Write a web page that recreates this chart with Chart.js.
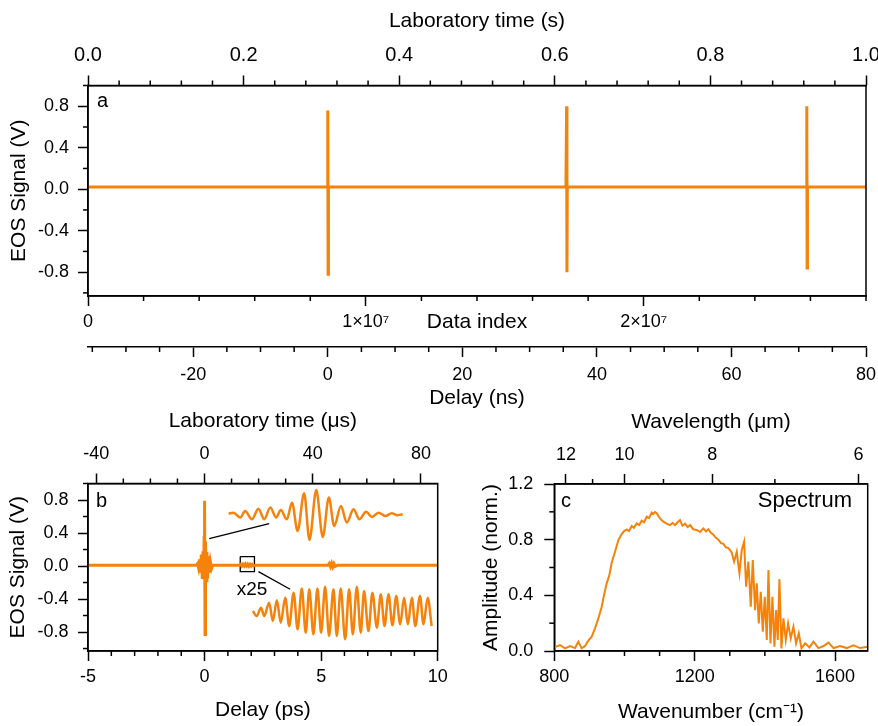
<!DOCTYPE html>
<html>
<head>
<meta charset="utf-8">
<script src="https://cdn.jsdelivr.net/npm/chart.js@4.4.1/dist/chart.umd.min.js"></script>
<style>
  html, body { margin: 0; padding: 0; background: #fff; }
  #fig { position: relative; width: 878px; height: 726px; overflow: hidden; background: #fff; }
  #fig canvas { position: absolute; }
</style>
</head>
<body>
<div id="fig">
  <canvas id="chartA" width="878" height="415" style="left:0;top:0"></canvas>
  <canvas id="chartB" width="450" height="321" style="left:0;top:405px"></canvas>
  <canvas id="chartC" width="428" height="321" style="left:450px;top:405px"></canvas>
</div>
<script>
const FONT = "'Liberation Sans', Arial, sans-serif";
const ORANGE = "#f5820a";

// panel a: full record, plotted against delay (ns)
const delayNs = [-35.64, -0.1, 0, 0.05, 0.1, 35.4, 35.5, 35.55, 35.6, 71.1, 71.2, 71.25, 71.3, 80];
const signalA = [0.02, 0.02, 0.76, -0.82, 0.02, 0.02, 0.80, -0.80, 0.02, 0.02, 0.80, -0.76, 0.02, 0.02];

const labTimeTicks = [0, 0.2, 0.4, 0.6, 0.8, 1.0];
const labTimeLabels = ["0.0", "0.2", "0.4", "0.6", "0.8", "1.0"];
const indexTicks = [0, 1e7, 2e7];
const indexLabels = ["0", "1×10⁷", "2×10⁷"];
const delayNsTicks = [-20, 0, 20, 40, 60, 80];
const delayNsLabels = ["-20", "0", "20", "40", "60", "80"];
const signalTicks = [-0.8, -0.4, 0, 0.4, 0.8];
const signalLabels = ["-0.8", "-0.4", "0.0", "0.4", "0.8"];

// panel b: single pulse (ps)
const delayPs = [-5, -0.35, -0.3, -0.26, -0.22, -0.18, -0.14, -0.10, -0.07, -0.04, -0.02, 0, 0.02, 0.04, 0.07,
  0.10, 0.13, 0.17, 0.21, 0.25, 0.3, 0.35, 1.5, 1.55, 1.6, 1.65, 1.7, 1.75, 1.8, 1.85, 1.9, 1.95, 2.0, 2.05, 2.1, 2.2,
  5.3, 5.35, 5.4, 5.45, 5.5, 5.55, 5.6, 5.7, 10];
const signalB = [0.01, 0.01, 0.03, -0.02, 0.08, -0.08, 0.14, -0.14, 0.18, -0.16, 0.35, 0.79, -0.83, 0.3, -0.18,
  0.17, -0.15, 0.12, -0.08, 0.05, -0.03, 0.01, 0.01, 0.02, 0.0, 0.022, 0.0, 0.024, 0.0, 0.022, -0.002, 0.02, 0.0, 0.018, 0.002, 0.01,
  0.01, 0.03, -0.008, 0.032, -0.01, 0.028, -0.004, 0.01, 0.01];

// zoomed insets, drawn in the same axes
const upperDelay = [1.03, 1.24, 1.53, 1.74, 2.03, 2.31, 2.56, 2.82, 3.07, 3.27, 3.53, 3.75, 3.99, 4.27, 4.50,
  4.79, 5.07, 5.33, 5.56, 5.85, 6.10, 6.39, 6.64, 6.93, 7.17, 7.46, 7.75, 8.03, 8.25, 8.50];
const upperSignal = [0.635, 0.647, 0.587, 0.667, 0.566, 0.695, 0.566, 0.708, 0.587, 0.679, 0.566, 0.768, 0.424, 0.881, 0.315,
  0.921, 0.352, 0.829, 0.485, 0.727, 0.526, 0.687, 0.566, 0.659, 0.594, 0.647, 0.606, 0.64, 0.616, 0.627];
const lowerDelay = [2.07, 2.24, 2.42, 2.56, 2.77, 2.93, 3.10, 3.27, 3.46, 3.63, 3.82, 3.99, 4.17, 4.34, 4.49,
  4.67, 4.84, 5.00, 5.17, 5.34, 5.53, 5.67, 5.84, 6.03, 6.20, 6.36, 6.53, 6.70, 6.84, 7.03,
  7.20, 7.39, 7.56, 7.72, 7.89, 8.06, 8.22, 8.39, 8.56, 8.72, 8.89, 9.04, 9.24, 9.39, 9.57, 9.74];
const lowerSignal = [-0.545, -0.606, -0.505, -0.606, -0.444, -0.666, -0.416, -0.687, -0.384, -0.727, -0.323, -0.767, -0.274, -0.808, -0.283,
  -0.828, -0.274, -0.808, -0.250, -0.848, -0.283, -0.848, -0.274, -0.889, -0.283, -0.828, -0.250, -0.808, -0.303, -0.788,
  -0.323, -0.747, -0.343, -0.727, -0.343, -0.719, -0.363, -0.707, -0.384, -0.707, -0.384, -0.727, -0.363, -0.707, -0.384, -0.727];
const boxDelay = [1.53, 2.14, 2.14, 1.53, 1.53];
const boxSignal = [0.114, 0.114, -0.068, -0.068, 0.114];
const leaderUpDelay = [0.20, 2.77];
const leaderUpSignal = [0.332, 0.514];
const leaderLowDelay = [2.31, 3.67];
const leaderLowSignal = [-0.068, -0.282];

const labUsTicks = [-40, 0, 40, 80];
const labUsLabels = ["-40", "0", "40", "80"];
const delayPsTicks = [-5, 0, 5, 10];
const delayPsLabels = ["-5", "0", "5", "10"];

// panel c: spectrum
const wavenumber = [800.1, 816.3, 830.5, 844.8, 859.0, 868.5, 878.0, 887.5, 897.0, 906.5, 916.0, 925.5, 935.1, 941.7, 949.3,
  956.9, 963.5, 973.1, 982.6, 992.1, 999, 1006.3, 1013, 1020.6, 1027, 1034.8, 1042, 1049.1, 1056, 1063.3, 1070, 1077.6, 1082,
  1087.1, 1092, 1096.6, 1104, 1110.8, 1120, 1129.8, 1137, 1144.1, 1151, 1158.3, 1165, 1172.6, 1180, 1186.8, 1196, 1205.8,
  1215, 1224.9, 1232, 1239.1, 1246, 1253.4, 1260, 1267.6, 1275, 1281.9, 1289, 1296.1, 1305.6, 1312.3, 1319.9, 1327.5,
  1334.1, 1340.8, 1346.5, 1353.1, 1359.8, 1365.5, 1372.1, 1376.9, 1382.6, 1388.3, 1394.0, 1399.7, 1405.4, 1410.2, 1415.9,
  1421.5, 1427.2, 1432.0, 1436.8, 1441.5, 1447.2, 1452.9, 1459.6, 1466.2, 1473.8, 1481.4, 1489.0, 1496.7, 1504.2, 1514.7,
  1527.0, 1538.4, 1552.7, 1566.9, 1581.2, 1595.5, 1614.4, 1633.4, 1652.4, 1671.4, 1693.3];
const amplitude = [0.026, 0.043, 0.019, 0.036, 0.021, 0.067, 0.019, 0.036, 0.074, 0.103, 0.163, 0.234, 0.318, 0.402, 0.486,
  0.546, 0.634, 0.713, 0.797, 0.840, 0.862, 0.874, 0.862, 0.898, 0.885, 0.917, 0.905, 0.936, 0.925, 0.965, 0.955, 0.994, 0.985,
  0.998, 0.990, 0.970, 0.945, 0.929, 0.915, 0.905, 0.920, 0.905, 0.925, 0.941, 0.900, 0.915, 0.890, 0.905, 0.875, 0.870,
  0.855, 0.881, 0.860, 0.875, 0.850, 0.835, 0.815, 0.800, 0.775, 0.770, 0.745, 0.740, 0.706, 0.642, 0.713, 0.558,
  0.725, 0.785, 0.462, 0.642, 0.318, 0.654, 0.294, 0.486, 0.198, 0.426, 0.139, 0.390, 0.079, 0.582, 0.055,
  0.390, 0.031, 0.294, 0.079, 0.515, 0.019, 0.234, 0.079, 0.198, 0.091, 0.175, 0.055, 0.127, 0.019, 0.055,
  0.026, 0.067, 0.021, 0.036, 0.060, 0.021, 0.036, 0.021, 0.041, 0.021, 0.031];

const wavenumberTicks = [800, 1200, 1600];
const wavenumberLabels = ["800", "1200", "1600"];
const wavelengthTicks = [12, 10, 8, 6];          // µm
const wavelengthMinor = [11, 9, 7];
const amplitudeTicks = [0, 0.4, 0.8, 1.2];
const amplitudeLabels = ["0.0", "0.4", "0.8", "1.2"];

function pts(xs, ys) {
  return xs.map((x, i) => ({ x, y: ys[i] }));
}

function minors(from, to, step, majors) {
  const out = [];
  for (let i = 0; from + i * step <= to + step / 1000; i++) {
    const v = from + i * step;
    if (!majors.some(m => Math.abs(m - v) < step / 100)) out.push(v);
  }
  return out;
}

function axis(o) {
  const vertical = o.position === "left";
  return {
    type: "linear",
    position: o.position,
    min: o.min,
    max: o.max,
    weight: o.weight || 0,
    afterBuildTicks: s => { s.ticks = o.ticks.map(value => ({ value })); },
    afterFit: s => {
      if (vertical) { s.width = o.size; s.paddingTop = 0; s.paddingBottom = 0; }
      else { s.height = o.size; s.paddingLeft = 0; s.paddingRight = 0; }
    },
    grid: { drawOnChartArea: false, drawTicks: true, tickLength: 10, tickWidth: 1.5, tickColor: "#000" },
    border: { display: true, color: "#000", width: 1.5 },
    ticks: {
      autoSkip: false, maxRotation: 0, minRotation: 0, padding: o.pad, color: "#000",
      font: { family: FONT, size: o.tickFont || 18 },
      callback: (v, i) => o.labels[i]
    },
    title: { display: true, text: o.title, color: "#000", font: { family: FONT, size: 21 }, padding: o.titlePad }
  };
}

// short unlabelled ticks between the major ones
function minorTicks(map) {
  return {
    id: "minorTicks",
    afterDraw(chart) {
      const ctx = chart.ctx;
      ctx.save();
      ctx.strokeStyle = "#000";
      ctx.lineWidth = 1.5;
      for (const id of Object.keys(map)) {
        const s = chart.scales[id];
        for (const v of map[id]) {
          if (v < s.min - 1e-9 || v > s.max + 1e-9) continue;
          const p = s.getPixelForValue(v);
          ctx.beginPath();
          if (s.position === "bottom") { ctx.moveTo(p, s.top); ctx.lineTo(p, s.top + 5); }
          else if (s.position === "top") { ctx.moveTo(p, s.bottom); ctx.lineTo(p, s.bottom - 5); }
          else { ctx.moveTo(s.right, p); ctx.lineTo(s.right - 5, p); }
          ctx.stroke();
        }
      }
      ctx.restore();
    }
  };
}

const frame = {
  id: "frame",
  afterDraw(chart) {
    const { ctx, chartArea: a } = chart;
    ctx.save();
    ctx.strokeStyle = "#000";
    ctx.lineWidth = 1.5;
    ctx.strokeRect(a.left, a.top, a.right - a.left, a.bottom - a.top);
    ctx.restore();
  }
};

function notes(list) {
  return {
    id: "notes",
    afterDraw(chart) {
      const ctx = chart.ctx;
      ctx.save();
      ctx.fillStyle = "#000";
      ctx.textBaseline = "alphabetic";
      for (const n of list) {
        ctx.font = n.size + "px " + FONT;
        ctx.textAlign = n.align || "left";
        ctx.fillText(n.text, n.x, n.y);
      }
      ctx.restore();
    }
  };
}

function baseOptions(padRight, scales) {
  return {
    responsive: false,
    animation: false,
    events: [],
    layout: { padding: { left: 0, top: 0, right: padRight, bottom: 0 } },
    plugins: { legend: { display: false }, tooltip: { enabled: false } },
    elements: { point: { radius: 0 } },
    scales
  };
}

function trace(data, color, width, extra) {
  return Object.assign({ data, borderColor: color, borderWidth: width, pointRadius: 0, fill: false, tension: 0,
    xAxisID: "x", yAxisID: "y" }, extra || {});
}

const signalMinor = [-1.0, -0.6, -0.2, 0.2, 0.6, 1.0];

// ---- panel a
new Chart(document.getElementById("chartA"), {
  type: "line",
  data: { datasets: [trace(pts(delayNs, signalA), ORANGE, 3)] },
  options: baseOptions(12, {
    xTime: axis({ position: "top", min: 0, max: 1, ticks: labTimeTicks, labels: labTimeLabels, size: 85.5,
      tickFont: 20, pad: 8, title: "Laboratory time (s)", titlePad: { top: 9, bottom: 0 } }),
    xIndex: axis({ position: "bottom", min: 0, max: 2.8e7, ticks: indexTicks, labels: indexLabels, size: 51,
      pad: 5.7, title: "Data index", titlePad: { top: 0, bottom: 12 }, weight: 0 }),
    x: axis({ position: "bottom", min: -35.64, max: 80, ticks: delayNsTicks, labels: delayNsLabels, size: 68,
      pad: 7.2, title: "Delay (ns)", titlePad: { top: 0, bottom: 4.4 }, weight: 1 }),
    y: axis({ position: "left", min: -1.03, max: 1.0, ticks: signalTicks, labels: signalLabels, size: 88,
      pad: 9, title: "EOS Signal (V)", titlePad: { top: 6.3, bottom: 0 } })
  }),
  plugins: [
    minorTicks({
      xTime: minors(0, 1, 0.04, labTimeTicks),
      xIndex: minors(0, 2.8e7, 2e6, indexTicks),
      x: minors(-35, 80, 5, delayNsTicks),
      y: signalMinor
    }),
    frame,
    notes([{ text: "a", x: 97, y: 107, size: 20 }])
  ]
});

// ---- panel b
new Chart(document.getElementById("chartB"), {
  type: "line",
  data: {
    datasets: [
      trace(pts(delayPs, signalB), ORANGE, 3),
      trace(pts(upperDelay, upperSignal), ORANGE, 2.5, { cubicInterpolationMode: "monotone" }),
      trace(pts(lowerDelay, lowerSignal), ORANGE, 2.5, { cubicInterpolationMode: "monotone" }),
      trace(pts(boxDelay, boxSignal), "#000", 1.3),
      trace(pts(leaderUpDelay, leaderUpSignal), "#000", 1.3),
      trace(pts(leaderLowDelay, leaderLowSignal), "#000", 1.3)
    ]
  },
  options: baseOptions(12.3, {
    xLab: axis({ position: "top", min: -43.06, max: 86.2, ticks: labUsTicks, labels: labUsLabels, size: 78.5,
      pad: 8.7, title: "Laboratory time (μs)", titlePad: { top: 3.9, bottom: 0 } }),
    x: axis({ position: "bottom", min: -5, max: 10, ticks: delayPsTicks, labels: delayPsLabels, size: 75,
      pad: 5.4, title: "Delay (ps)", titlePad: { top: 0, bottom: 3.4 } }),
    y: axis({ position: "left", min: -1.03, max: 1.0, ticks: signalTicks, labels: signalLabels, size: 88,
      pad: 9.4, title: "EOS Signal (V)", titlePad: { top: 5.5, bottom: 0 } })
  }),
  plugins: [
    minorTicks({
      xLab: minors(-40, 80, 10, labUsTicks),
      x: minors(-5, 10, 1, delayPsTicks),
      y: signalMinor
    }),
    frame,
    notes([
      { text: "b", x: 96, y: 101.7, size: 20 },
      { text: "x25", x: 236.7, y: 190, size: 19 }
    ])
  ]
});

// ---- panel c
new Chart(document.getElementById("chartC"), {
  type: "line",
  data: { datasets: [trace(pts(wavenumber, amplitude), ORANGE, 2)] },
  options: baseOptions(10.3, {
    xWave: axis({ position: "top", min: 800, max: 1693, ticks: wavelengthTicks.map(w => 10000 / w),
      labels: wavelengthTicks.map(String), size: 79, pad: 8.2, title: "Wavelength (μm)", titlePad: { top: 4.4, bottom: 0 } }),
    x: axis({ position: "bottom", min: 800, max: 1693, ticks: wavenumberTicks, labels: wavenumberLabels, size: 75,
      pad: 5.2, title: "Wavenumber (cm⁻¹)", titlePad: { top: 0, bottom: 1.4 } }),
    y: axis({ position: "left", min: 0, max: 1.2, ticks: amplitudeTicks, labels: amplitudeLabels, size: 104.3,
      pad: 11, title: "Amplitude (norm.)", titlePad: { top: 29, bottom: 0 } })
  }),
  plugins: [
    minorTicks({
      xWave: wavelengthMinor.map(w => 10000 / w),
      x: minors(800, 1600, 100, wavenumberTicks),
      y: [0.2, 0.6, 1.0]
    }),
    frame,
    notes([
      { text: "c", x: 111, y: 101.7, size: 20 },
      { text: "Spectrum", x: 402, y: 101.7, size: 22, align: "right" }
    ])
  ]
});
</script>
</body>
</html>
